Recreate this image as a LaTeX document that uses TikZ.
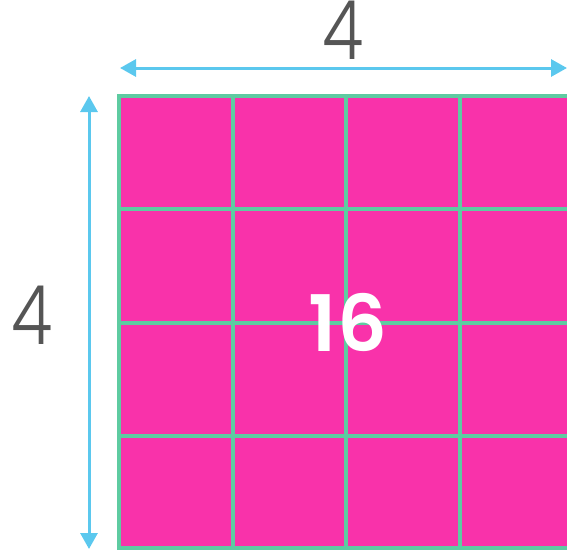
\documentclass[tikz,border=0pt]{standalone}
\usepackage{fontspec}
\setmainfont{Poppins}
\newfontfamily\lightfont{Poppins Light}
\newfontfamily\semifont{Poppins SemiBold}
\usetikzlibrary{arrows.meta}
\definecolor{pinkfill}{HTML}{F932AA}
\definecolor{gridgreen}{HTML}{5ECBA1}
\definecolor{dimblue}{HTML}{5BC8EE}
\definecolor{dimgray}{HTML}{555555}
\tikzset{
  dimarrow/.style={draw=dimblue, line width=3pt, {Triangle[length=16pt,width=17pt]}-{Triangle[length=16pt,width=17pt]}},
  gridline/.style={draw=gridgreen, line width=4pt},
  dimlabel/.style={text=dimgray, font=\lightfont\fontsize{82}{82}\selectfont, inner sep=0pt, xscale=0.82},
  arealabel/.style={text=white, font=\semifont\fontsize{78}{78}\selectfont, inner sep=0pt}
}
\begin{document}
\begin{tikzpicture}[x=1pt,y=-1pt]
\useasboundingbox (0,0) rectangle (567,551);
\clip (0,0) rectangle (567,551);
\fill[pinkfill] (119,96) rectangle (580,548);
\foreach \x in {119,232.5,346,459.5,573} \draw[gridline] (\x,96) -- (\x,548);
\foreach \y in {96,209,322.5,436,548} \draw[gridline] (117,\y) -- (580,\y);
\coordinate (hL) at (120,68);
\coordinate (hR) at (567,68);
\coordinate (vT) at (89,96);
\coordinate (vB) at (89,549);
\draw[dimarrow] (hL) -- (hR);
\draw[dimarrow] (vT) -- (vB);
\node[dimlabel] (top) at (343,30) {4};
\node[dimlabel] (left) at (32,315) {4};
\node[arealabel] (area) at (348,322) {16};
\end{tikzpicture}
\end{document}
